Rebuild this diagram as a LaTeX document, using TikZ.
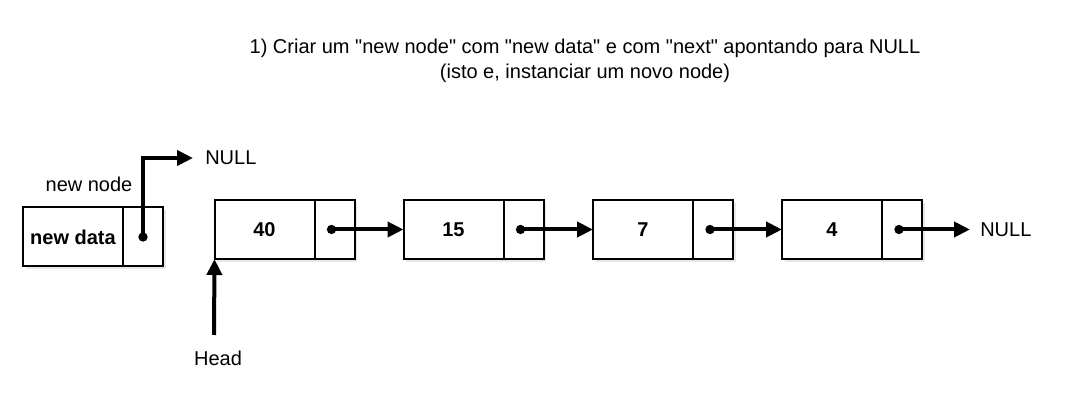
\documentclass[tikz,border=0pt]{standalone}
\usepackage{fontspec}
\setmainfont{Liberation Sans}[Ligatures=TeXOff]
\usetikzlibrary{arrows.meta,shadows}

\begin{document}
\begin{tikzpicture}[x=0.75pt,y=-0.75pt,
	every node/.style={font=\fontsize{15}{18.75}\selectfont},
	boxshadow/.style={drop shadow={opacity=0.18, shadow xshift=2pt, shadow yshift=-2pt}},
	datapart/.style={draw, fill=white, boxshadow, line width=1.5pt, outer sep=0pt, minimum width=75pt, minimum height=44.25pt, inner sep=0pt, font=\fontsize{15}{18}\selectfont\bfseries},
	ptrpart/.style={draw, fill=white, line width=1.5pt, outer sep=0pt, minimum width=30pt, minimum height=44.25pt, inner sep=0pt, anchor=west},
	dot/.style={circle, fill, inner sep=0pt, minimum size=7pt},
	link/.style={line width=3pt, -{Triangle[length=12pt,width=11.25pt]}}]
	\path[fill=white] (0,0) rectangle (1065,416);
	% title
	\node[align=center] (title) at (585,61) {1) Criar um "new node" com "new data" e com "next" apontando para NULL\\(isto e, instanciar um novo node)};
	% the new node
	\node[datapart] (dnew) at (73,237) {new data};
	\node[ptrpart, boxshadow] (pnew) at (dnew.east) {};
	\node[dot] (cnew) at (pnew.center) {};
	\node (lnew) at (89,184) {new node};
	\node[anchor=west, inner sep=0pt, inner xsep=9pt] (nulla) at (193,158) {NULL};
	\draw[link] (cnew.center) |- (nulla.west);
	% the list
	\node[datapart] (d40) at (264.5,229.5) {40};
	\node[ptrpart, boxshadow] (p40) at (d40.east) {};
	\node[dot] (c40) at ([xshift=-2.25pt]p40.center) {};
	\node[datapart] (d15) at (453.5,229.5) {15};
	\node[ptrpart, boxshadow] (p15) at (d15.east) {};
	\node[dot] (c15) at ([xshift=-2.25pt]p15.center) {};
	\node[datapart] (d7) at (643,229.5) {7};
	\node[ptrpart, boxshadow] (p7) at (d7.east) {};
	\node[dot] (c7) at ([xshift=-2.25pt]p7.center) {};
	\node[datapart] (d4) at (832,229.5) {4};
	\node[ptrpart, boxshadow] (p4) at (d4.east) {};
	\node[dot] (c4) at ([xshift=-2.25pt]p4.center) {};
	\node[anchor=west, inner sep=0pt, inner xsep=7.5pt] (nullb) at (970,229.5) {NULL};
	\draw[link] (c40.center) -- (d15.west);
	\draw[link] (c15.center) -- (d7.west);
	\draw[link] (c7.center) -- (d4.west);
	\draw[link] (c4.center) -- (nullb.west);
	% head
	\coordinate (headtail) at (214,335);
	\node (head) at (218,358) {Head};
	\draw[link] (headtail) -- (d40.south west);
\end{tikzpicture}
\end{document}
